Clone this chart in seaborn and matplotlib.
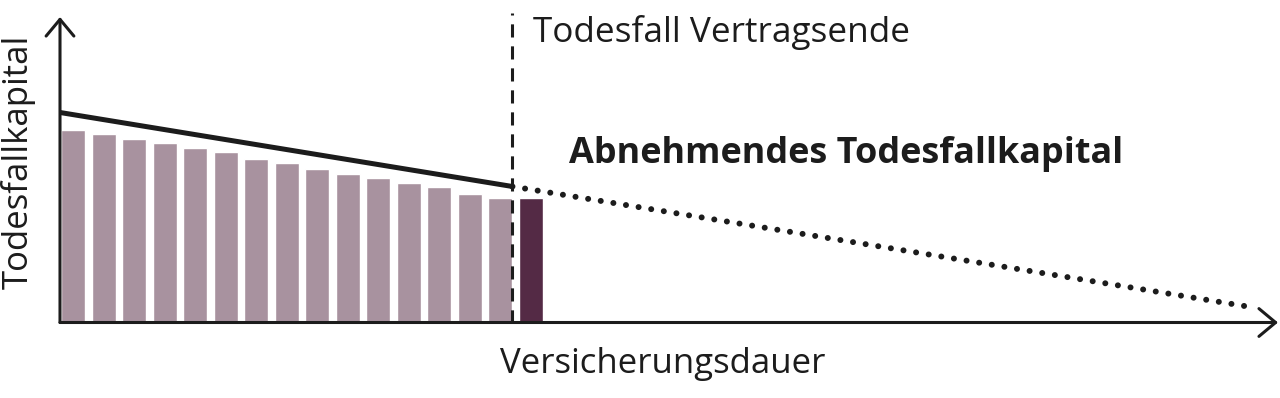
import matplotlib
matplotlib.use('Agg')
import matplotlib.pyplot as plt
import seaborn as sns
import pandas as pd

# Bar heights (Todesfallkapital, arbitrary units) per year of the contract
years = list(range(1, 17))
capital = [193, 189, 184, 180, 175, 171, 164, 160, 154, 149, 145, 140, 136, 129, 125, 125]
kind = ['Laufzeit'] * 15 + ['Todesfall']

# Decreasing insured sum: solid until contract end, dotted afterwards
line_x = [-0.43, 14.4]
line_y = [210, 136]
dotted_x = [14.4, 38.5]
dotted_y = [136, 16]
contract_end = 14.4

light = '#a8929f'
dark = '#542a45'
ink = '#1c1c1c'

sns.set_theme(style='white')
plt.rcParams['font.family'] = ['Open Sans', 'DejaVu Sans']

fig = plt.figure(figsize=(12.8, 3.98), dpi=100)
ax = fig.add_axes([60 / 1280, 75.5 / 398, 1218 / 1280, 305.5 / 398])

df = pd.DataFrame({'year': years, 'capital': capital, 'kind': kind})
sns.barplot(data=df, x='year', y='capital', hue='kind',
            palette={'Laufzeit': light, 'Todesfall': dark},
            dodge=False, width=0.8, legend=False, saturation=1, ax=ax)

ax.plot(line_x, line_y, color=ink, lw=3.6, solid_capstyle='butt')
ax.plot(dotted_x, dotted_y, color=ink, lw=4.3,
        linestyle=(0, (0.01, 2.13)), dash_capstyle='round')
ax.plot([contract_end, contract_end], [0, 310], color=ink, lw=2.2,
        linestyle=(0, (4.3, 2.9)), clip_on=False)

ax.set_xlim(-0.433, 39.5)
ax.set_ylim(0, 305.5)
ax.set_xticks([])
ax.set_yticks([])
ax.set_xlabel('')
ax.set_ylabel('')
sns.despine(ax=ax, left=True, bottom=True)

# axis arrows
arrow = dict(arrowstyle='->,head_length=0.6,head_width=0.5', color=ink,
             lw=2.2, shrinkA=0, shrinkB=0, mutation_scale=20)
ax.annotate('', xy=(1, 0), xytext=(0, 0), xycoords='axes fraction',
            arrowprops=arrow, annotation_clip=False)
ax.annotate('', xy=(0, 1), xytext=(0, 0), xycoords='axes fraction',
            arrowprops=arrow, annotation_clip=False)

fs = 25
fig.text(533 / 1280, 1 - 42 / 398, 'Todesfall Vertragsende', fontsize=25.3,
         color=ink, ha='left', va='baseline')
fig.text(569 / 1280, 1 - 163 / 398, 'Abnehmendes Todesfallkapital', fontsize=25.9,
         fontweight='bold', color=ink, ha='left', va='baseline')
fig.text(663 / 1280, 1 - 373 / 398, 'Versicherungsdauer', fontsize=fs,
         color=ink, ha='center', va='baseline')
fig.text(28 / 1280, 1 - 161.5 / 398, 'Todesfallkapital', fontsize=fs,
         color=ink, rotation=90, rotation_mode='anchor',
         ha='center', va='baseline')

fig.savefig('out.png', dpi=100)
